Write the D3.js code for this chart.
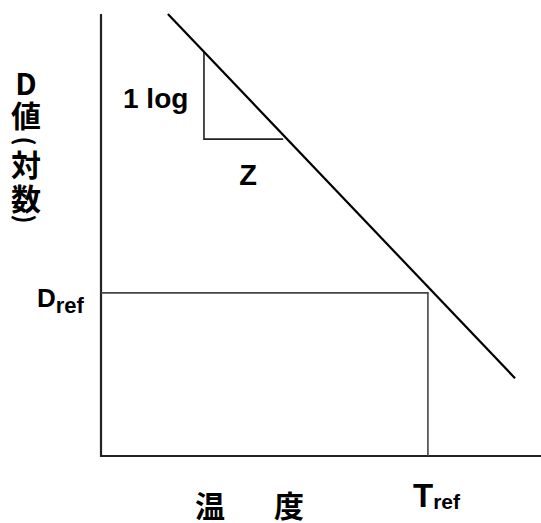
<!DOCTYPE html>
<html>
<head>
<meta charset="utf-8">
<script src="https://cdn.jsdelivr.net/npm/d3@7"></script>
<style>
  body { margin: 0; background: #fff; }
  svg { display: block; }
  .lat { font-family: "Liberation Sans", Arial, sans-serif; font-weight: bold; fill: #000; }
  .cjk { font-family: "Noto Sans CJK JP", sans-serif; font-weight: bold; fill: #000; }
</style>
</head>
<body>
<svg></svg>
<script>
var width = 541,
    height = 523;

// schematic data (temperature vs log D, arbitrary units)
var tDomain = [0, 100],
    dDomain = [0, 100];

// the D-value line, two end points
var lineT = [15.2, 94.1],
    lineD = [100, 17.6];

// the "1 log / Z" triangle
var triT = [23.4, 41.4],
    triD = [91.4, 71.7];

// reference point
var refT = 74.3,
    refD = 36.9;

var yLabel = ['D', '値', '(', '対', '数', ')'];
var xLabel = ['温', '度'];

var x = d3.scaleLinear().domain(tDomain).range([101, 541]);
var y = d3.scaleLinear().domain(dDomain).range([456, 14]);

var svg = d3.select('svg')
    .attr('width', width)
    .attr('height', height);

// Axes (no ticks)
svg.append('path')
    .attr('d', 'M' + x(0) + ',' + y(100) + 'V' + y(0) + 'H' + x(100))
    .attr('fill', 'none')
    .attr('stroke', '#222')
    .attr('stroke-width', 2.2);

// Reference lines
svg.append('path')
    .attr('d', 'M' + x(0) + ',' + y(refD) + 'H' + x(refT) + 'V' + y(0))
    .attr('fill', 'none')
    .attr('stroke', '#444')
    .attr('stroke-width', 1.6);

// Triangle
svg.append('path')
    .attr('d', 'M' + x(triT[0]) + ',' + y(triD[0]) + 'V' + y(triD[1]) + 'H' + x(triT[1]))
    .attr('fill', 'none')
    .attr('stroke', '#222')
    .attr('stroke-width', 1.6);

// Main line
svg.append('line')
    .attr('x1', x(lineT[0]))
    .attr('y1', y(lineD[0]))
    .attr('x2', x(lineT[1]))
    .attr('y2', y(lineD[1]))
    .attr('stroke', '#000')
    .attr('stroke-width', 2.2);

// 1 log and Z
svg.append('text')
    .attr('class', 'lat')
    .attr('x', 123)
    .attr('y', 108)
    .style('font-size', '28px')
    .text('1 log');

svg.append('text')
    .attr('class', 'lat')
    .attr('x', 248)
    .attr('y', 185)
    .attr('text-anchor', 'middle')
    .style('font-size', '29px')
    .text('Z');

// Dref
var dref = svg.append('text')
    .attr('class', 'lat')
    .attr('x', 37)
    .attr('y', 307);
dref.append('tspan').style('font-size', '26px').text('D');
dref.append('tspan').attr('dy', 6).style('font-size', '22px').text('ref');

// Tref
var tref = svg.append('text')
    .attr('class', 'lat')
    .attr('x', 413)
    .attr('y', 507);
tref.append('tspan').style('font-size', '33px').text('T');
tref.append('tspan').attr('dy', 2).style('font-size', '21px').text('ref');

// y label, stacked vertically; brackets turned sideways
var yCenters = [82, 114, 141, 163, 197, 219];
svg.selectAll('text.ylab')
    .data(yLabel)
    .enter().append('text')
    .attr('class', 'ylab cjk')
    .attr('transform', function(d, i) {
        var r = (d === '(' || d === ')') ? ' rotate(90)' : '';
        return 'translate(26,' + yCenters[i] + ')' + r;
    })
    .attr('text-anchor', 'middle')
    .attr('dominant-baseline', 'central')
    .style('font-size', function(d) { return (d === '(' || d === ')') ? '24px' : '30px'; })
    .text(function(d) { return d; });

// x label
var xCenters = [210, 289];
svg.selectAll('text.xlab')
    .data(xLabel)
    .enter().append('text')
    .attr('class', 'xlab cjk')
    .attr('x', function(d, i) { return xCenters[i]; })
    .attr('y', 504)
    .attr('text-anchor', 'middle')
    .attr('dominant-baseline', 'central')
    .style('font-size', '30px')
    .text(function(d) { return d; });
</script>
</body>
</html>
